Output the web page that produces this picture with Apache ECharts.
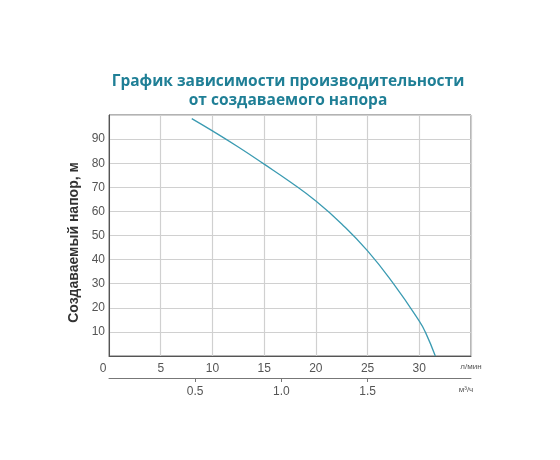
<!DOCTYPE html>
<html>
<head>
<meta charset="utf-8">
<script src="https://cdn.jsdelivr.net/npm/echarts@6/dist/echarts.min.js"></script>
<style>
  html, body { margin: 0; padding: 0; background: #fff; }
  #chart { width: 560px; height: 460px; }
</style>
</head>
<body>
<div id="chart"></div>
<script>
// flow, l/min
const flowLpm = [8, 10, 12.5, 15, 17.5, 20, 22.5, 25, 27.5, 30, 30.6, 31.55];
// head, m
const headM = [98.5, 93.4, 86.7, 79.6, 72.3, 64.3, 54.8, 43.6, 30, 14.5, 9.8, 0];
// second scale, m3/h
const m3hTicks = [0.5, 1.0, 1.5];

const chart = echarts.init(document.getElementById('chart'));

const fontFamily = '"Liberation Sans", Arial, sans-serif';

const option = {
    animation: false,
    title: {
        text: 'График зависимости производительности\nот создаваемого напора',
        left: 283,
        top: 67,
        textAlign: 'center',
        textStyle: {
            fontFamily: '"Open Sans", sans-serif',
            fontWeight: 'bold',
            fontSize: 15.5,
            lineHeight: 19,
            color: '#1f7f96'
        }
    },
    grid: {
        left: 109,
        top: 115,
        right: 89,
        bottom: 104,
        show: true,
        borderColor: '#666',
        borderWidth: 1
    },
    xAxis: [{
        type: 'value',
        min: 0,
        max: 35,
        interval: 5,
        axisLine: { lineStyle: { color: '#555' } },
        axisTick: { show: false },
        splitLine: { lineStyle: { color: '#d0d0d0', width: 1.2 } },
        axisLabel: {
            color: '#555',
            fontFamily: fontFamily,
            fontSize: 12,
            margin: 7,
            formatter: v => v === 35 ? '{u|л/мин}' : (v === 0 ? '{z|0}' : String(v)),
            rich: {
                u: { fontSize: 8, color: '#555', fontFamily: fontFamily },
                z: { fontSize: 12, color: '#555', fontFamily: fontFamily, padding: [0, 12, 0, 0] }
            }
        }
    }, {
        type: 'value',
        position: 'bottom',
        offset: 22,
        min: 0,
        max: 2.1,
        axisLine: { lineStyle: { color: '#777' } },
        axisTick: {
            show: true,
            customValues: m3hTicks,
            length: 4,
            lineStyle: { color: '#777' }
        },
        splitLine: { show: false },
        axisLabel: {
            customValues: m3hTicks.concat([2.1]),
            color: '#555',
            fontFamily: fontFamily,
            fontSize: 12,
            margin: 8,
            formatter: v => v === 2.1 ? '{u|м³/ч}' : v.toFixed(1),
            rich: { u: { fontSize: 8, color: '#555', fontFamily: fontFamily, padding: [0, 10, 0, 0] } }
        }
    }],
    yAxis: {
        type: 'value',
        min: 0,
        max: 100,
        interval: 10,
        name: 'Создаваемый напор, м',
        nameLocation: 'middle',
        nameGap: 28,
        nameTextStyle: {
            fontFamily: fontFamily,
            fontWeight: 'bold',
            fontSize: 14,
            color: '#333',
            padding: [0, 0, 0, -14]
        },
        axisLine: { show: true, lineStyle: { color: '#555' } },
        axisTick: { show: false },
        splitLine: { lineStyle: { color: '#d0d0d0', width: 1.2 } },
        axisLabel: {
            color: '#555',
            fontFamily: fontFamily,
            fontSize: 12,
            margin: 4,
            showMinLabel: false,
            showMaxLabel: false
        }
    },
    series: [{
        type: 'line',
        xAxisIndex: 0,
        data: flowLpm.map((x, i) => [x, headM[i]]),
        smooth: 0.5,
        showSymbol: false,
        lineStyle: { color: '#3b9bb2', width: 1.3 }
    }]
};

chart.setOption(option);
</script>
</body>
</html>
